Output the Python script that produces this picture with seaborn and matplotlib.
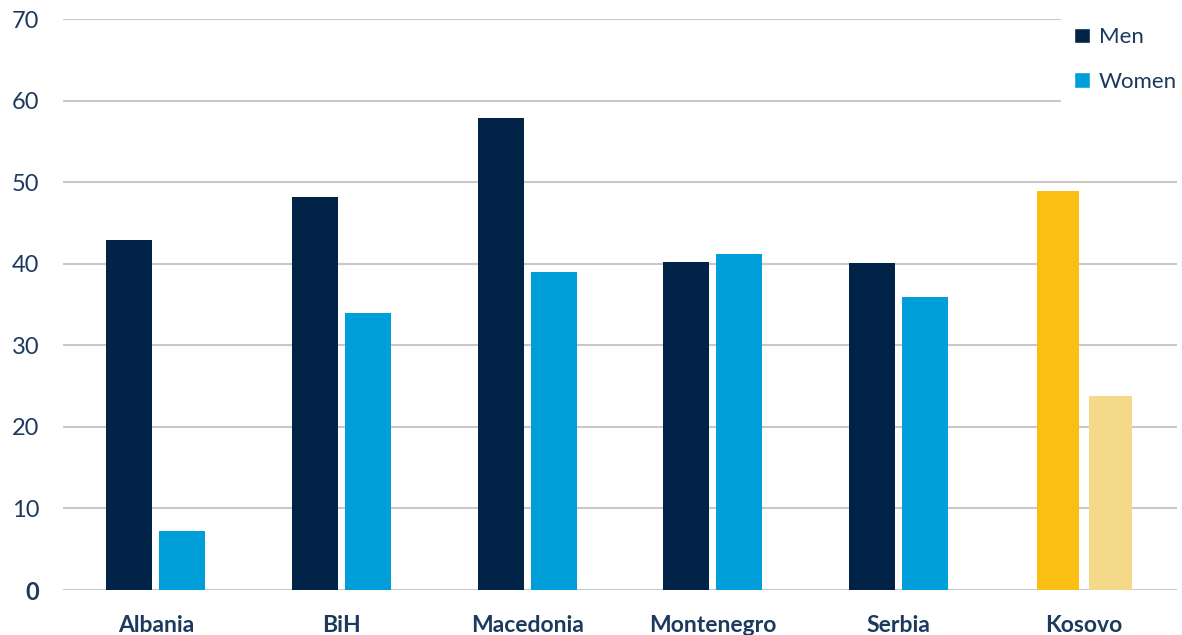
import matplotlib
matplotlib.use("Agg")
import matplotlib.pyplot as plt
from matplotlib.patches import Patch
import seaborn as sns
import pandas as pd

countries = ["Albania", "BiH", "Macedonia", "Montenegro", "Serbia", "Kosovo"]
men = [42.9, 48.2, 57.9, 40.2, 40.1, 48.9]
women = [7.2, 34.0, 39.0, 41.2, 35.9, 23.8]
y_ticks = [0, 10, 20, 30, 40, 50, 60, 70]

NAVY = "#002347"
BLUE = "#009FDA"
GOLD = "#FBBF14"
PALE_GOLD = "#F5D98A"
TEXT = "#1B3A5E"
GRID = "#C8C8C8"

df = pd.DataFrame({
    "country": countries * 2,
    "value": men + women,
    "sex": ["Men"] * len(countries) + ["Women"] * len(countries),
})

sns.set_theme(style="white")
plt.rcParams["font.family"] = ["Lato", "DejaVu Sans"]

fig = plt.figure(figsize=(11.82, 6.35), dpi=100)
ax = fig.add_axes([63 / 1182, 45 / 635, (1177 - 63) / 1182, (590 - 19) / 635])

sns.barplot(data=df, x="country", y="value", hue="sex", order=countries,
            hue_order=["Men", "Women"], palette=[NAVY, BLUE], saturation=1,
            width=0.57, gap=0.13, linewidth=0, legend=False, ax=ax, zorder=3)

# Kosovo is highlighted in gold tones with slightly narrower bars
k = countries.index("Kosovo")
bars = ax.patches
n = len(countries)
for idx, col in ((k, GOLD), (n + k, PALE_GOLD)):
    p = bars[idx]
    p.set_facecolor(col)
    cx = p.get_x() + p.get_width() / 2
    w = p.get_width() * 0.92
    p.set_width(w)
    p.set_x(cx - w / 2)

ax.set_ylim(0, 70)
ax.set_xlim(-0.5, len(countries) - 0.5)
ax.set_yticks(y_ticks)
ax.yaxis.grid(True, color=GRID, linewidth=1.5, zorder=0)
ax.set_axisbelow(True)
for s in ["top", "right", "left", "bottom"]:
    ax.spines[s].set_visible(False)

ax.set_xlabel("")
ax.set_ylabel("")
ax.tick_params(axis="both", length=0)
ax.tick_params(axis="y", pad=17)
ax.tick_params(axis="x", pad=18)

for lab in ax.get_yticklabels():
    lab.set_fontsize(17)
    lab.set_color(TEXT)
    lab.set_fontweight("bold" if lab.get_text() == "0" else "normal")
for lab in ax.get_xticklabels():
    lab.set_fontsize(16.5)
    lab.set_color(TEXT)
    lab.set_fontweight("bold")

handles = [Patch(facecolor=NAVY, label="Men"), Patch(facecolor=BLUE, label="Women")]
leg = ax.legend(handles=handles, loc="upper right", bbox_to_anchor=(1.022, 1.028),
                frameon=True, fancybox=False, framealpha=1.0, edgecolor="white",
                facecolor="white", fontsize=16, handlelength=0.7, handleheight=0.7,
                handletextpad=0.4, labelspacing=1.1, borderpad=0.6)
for t in leg.get_texts():
    t.set_color(TEXT)
leg.set_zorder(10)

fig.savefig("out.png", dpi=100, facecolor="white")
